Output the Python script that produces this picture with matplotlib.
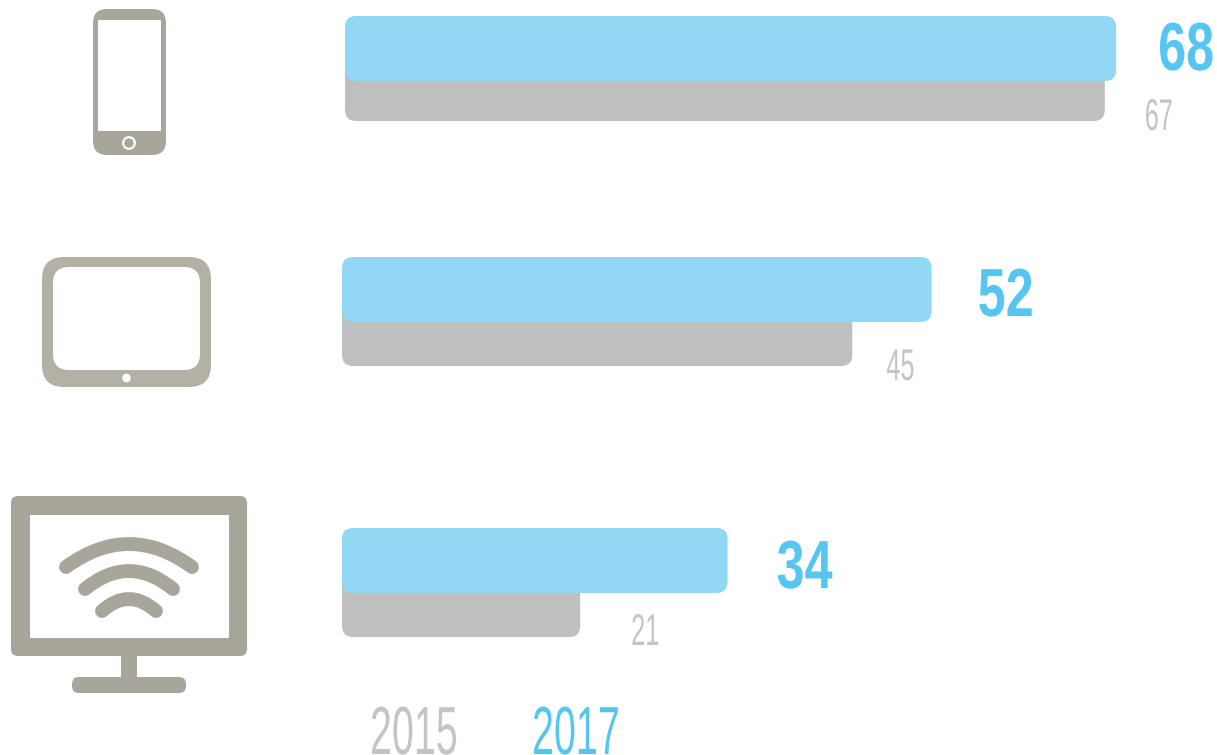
import matplotlib
matplotlib.use('Agg')
import matplotlib.pyplot as plt
import matplotlib.patheffects as pe
from matplotlib.patches import FancyBboxPatch, Rectangle, Circle, PathPatch
from matplotlib.path import Path
from matplotlib.transforms import Affine2D

values_2015 = [67, 45, 21]
values_2017 = [68, 52, 34]
legend_labels = ['2015', '2017']

BLUE_BAR = '#92D8F5'
BLUE_TEXT = '#56C5F2'
GRAY_BAR = '#BFBFBF'
GRAY_TEXT = '#C4C4C4'
ICON = '#A8A59B'
ICON2 = '#B3B0A6'

PX_PER_UNIT = 11.34

plt.rcParams['font.family'] = ['Liberation Sans', 'DejaVu Sans']


class Squeeze(pe.AbstractPathEffect):
    # the original font is very condensed, so narrow the glyphs around the text origin
    # dx, dy nudge the drawn glyphs in pixels, since the text box stays at the unsqueezed size
    def __init__(self, sx, dx=0, dy=0):
        super().__init__()
        self.sx = sx
        self.dx = dx
        self.dy = dy

    def draw_path(self, renderer, gc, tpath, affine, rgbFace=None):
        t = Affine2D().scale(self.sx, 1) + affine + Affine2D().translate(self.dx, self.dy)
        renderer.draw_path(gc, tpath, t, rgbFace)


fig = plt.figure(figsize=(12.17, 7.55), dpi=100)

# pixel axes for icons and labels
px = fig.add_axes([0, 0, 1, 1])
px.set_xlim(0, 1217)
px.set_ylim(755, 0)
px.axis('off')

# bars axes: x in chart units, y in pixels
ax = fig.add_axes([0, 0, 1, 1])
ax.set_xlim(-342 / PX_PER_UNIT, (1217 - 342) / PX_PER_UNIT)
ax.set_ylim(755, 0)
ax.axis('off')
ax.patch.set_alpha(0)


def rounded_bar(value, left_px, top, bottom, color, zorder):
    left = left_px / PX_PER_UNIT
    box = FancyBboxPatch((left, top), value, bottom - top,
                         boxstyle='round,pad=0,rounding_size=%f' % (11 / PX_PER_UNIT),
                         mutation_aspect=PX_PER_UNIT, fc=color, ec='none', zorder=zorder)
    ax.add_patch(box)


def px_round(x0, y0, x1, y1, r, color, zorder=2):
    px.add_patch(FancyBboxPatch((x0, y0), x1 - x0, y1 - y0,
                                boxstyle='round,pad=0,rounding_size=%f' % r,
                                fc=color, ec='none', zorder=zorder))


row_left = [3, 0, 0]
blue_top = [16, 257, 528]
blue_bottom = [81, 322, 593]
gray_bottom = [121, 366, 637]
blue_gap = [42, 46, 49]
gray_gap = [40, 34, 51]
blue_base = [70, 316, 588]
gray_base = [130, 380, 645]
blue_nudge = [20, 0, 0]

for i in range(3):
    rounded_bar(values_2015[i], row_left[i], blue_bottom[i] - 25, gray_bottom[i], GRAY_BAR, 2)
    rounded_bar(values_2017[i], row_left[i], blue_top[i], blue_bottom[i], BLUE_BAR, 3)

    x_blue = 342 + row_left[i] + values_2017[i] * PX_PER_UNIT + blue_gap[i] - blue_nudge[i]
    x_gray = 342 + row_left[i] + values_2015[i] * PX_PER_UNIT + gray_gap[i]
    px.text(x_blue, blue_base[i], str(values_2017[i]), fontsize=49, fontweight='bold',
            color=BLUE_TEXT, va='baseline', ha='left',
            path_effects=[Squeeze(0.74, dx=blue_nudge[i])])
    px.text(x_gray, gray_base[i], str(values_2015[i]), fontsize=32,
            color=GRAY_TEXT, va='baseline', ha='left', path_effects=[Squeeze(0.57)])

# legend
px.text(370, 736, legend_labels[0], fontsize=49, color=GRAY_TEXT, va='baseline', ha='left',
        path_effects=[Squeeze(0.58, dy=-18)])
px.text(532, 736, legend_labels[1], fontsize=49, color=BLUE_TEXT, va='baseline', ha='left',
        path_effects=[Squeeze(0.58, dy=-18)])

# phone icon
px_round(93, 9, 166, 155, 14, ICON)
px.add_patch(Rectangle((98, 20), 63, 111, fc='white', ec='none', zorder=3))
px.add_patch(Circle((129, 143), 5.8, fc='none', ec='white', lw=1.6, zorder=3))

# tablet icon
px_round(42, 257, 211, 387, 22, ICON2)
px_round(53, 267, 200, 370, 16, 'white', 3)
px.add_patch(Circle((126.5, 378), 4.3, fc='white', ec='none', zorder=3))

# monitor icon
px_round(11, 496, 247, 656, 7, ICON)
px.add_patch(Rectangle((29.5, 515), 199, 123, fc='white', ec='none', zorder=3))
px.add_patch(Rectangle((121, 655), 16, 23, fc=ICON, ec='none', zorder=2))
px_round(72, 677, 186, 693, 7, ICON)

for half, end_y, top_y in [(63, 567, 544), (44, 589, 571), (27, 611, 599)]:
    ctrl_y = 2 * top_y - end_y
    path = Path([(129 - half, end_y), (129, ctrl_y), (129 + half, end_y)],
                [Path.MOVETO, Path.CURVE3, Path.CURVE3])
    px.add_patch(PathPatch(path, fc='none', ec=ICON, lw=10, capstyle='round', zorder=4))

plt.savefig('out.png', dpi=100)
